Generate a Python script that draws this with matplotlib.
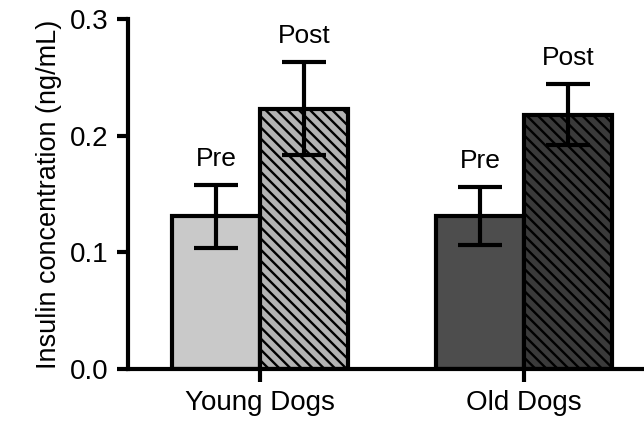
import numpy as np
import matplotlib.pyplot as plt

plt.rcParams['font.family'] = ['Liberation Sans', 'DejaVu Sans']
plt.rcParams['hatch.linewidth'] = 1.7

groups = ["Young Dogs", "Old Dogs"]
pre_vals = [0.131, 0.131]
pre_err = [0.027, 0.025]
post_vals = [0.223, 0.218]
post_err = [0.040, 0.026]
pre_colors = ["#c9c9c9", "#4d4d4d"]
post_colors = ["#b3b3b3", "#3a3a3a"]

x = np.arange(len(groups))
w = 0.333
lw = 3.0

fig = plt.figure(figsize=(6.44, 4.21), dpi=100)
ax = fig.add_axes([0.199, 0.1235, 0.801, 0.8315])

ax.bar(x - w / 2, pre_vals, w, color=pre_colors, edgecolor="black", linewidth=lw, zorder=2)
ax.bar(x + w / 2, post_vals, w, color=post_colors, edgecolor="black", linewidth=lw,
       hatch="\\\\\\", zorder=2)
ax.errorbar(x - w / 2, pre_vals, yerr=pre_err, fmt="none", ecolor="black",
            elinewidth=lw, capsize=16, capthick=lw, zorder=3)
ax.errorbar(x + w / 2, post_vals, yerr=post_err, fmt="none", ecolor="black",
            elinewidth=lw, capsize=16, capthick=lw, zorder=3)

for i in range(len(groups)):
    ax.text(x[i] - w / 2, pre_vals[i] + pre_err[i] + 0.012, "Pre", ha="center",
            va="bottom", fontsize=19)
    ax.text(x[i] + w / 2, post_vals[i] + post_err[i] + 0.012, "Post", ha="center",
            va="bottom", fontsize=19)

ax.set_xlim(-0.5, 1.455)
ax.set_ylim(0, 0.3)
ax.set_xticks(x)
ax.set_xticklabels(groups, fontsize=20)
ax.set_yticks([0.0, 0.1, 0.2, 0.3])
ax.set_yticklabels(["0.0", "0.1", "0.2", "0.3"], fontsize=20)
ax.set_ylabel("Insulin concentration (ng/mL)", fontsize=19.5, labelpad=6)

for s in ["top", "right"]:
    ax.spines[s].set_visible(False)
for s in ["left", "bottom"]:
    ax.spines[s].set_linewidth(lw)
ax.tick_params(axis="y", width=lw, length=8, pad=6)
ax.tick_params(axis="x", width=lw, length=9, pad=6)

plt.savefig("out.png")
